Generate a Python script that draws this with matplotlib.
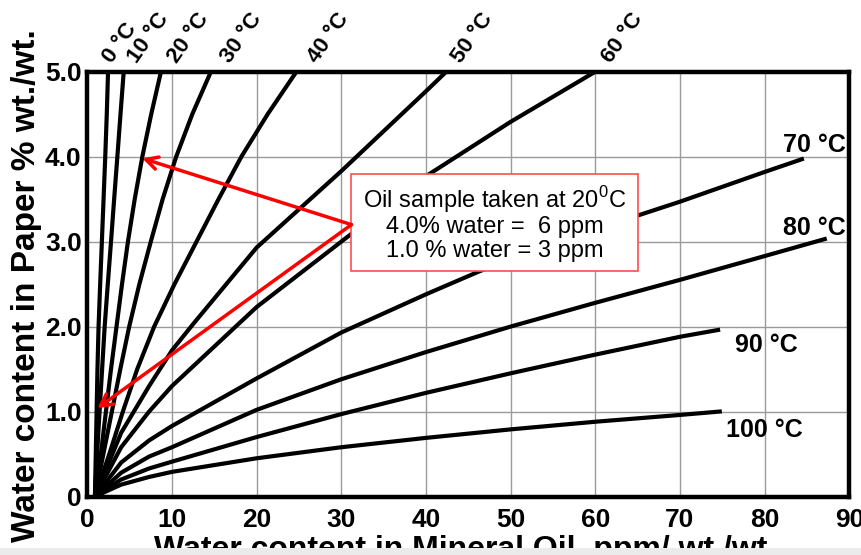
import matplotlib.pyplot as plt
from matplotlib.patches import Rectangle

plt.rcParams['font.family'] = ['Liberation Sans Narrow', 'Liberation Sans', 'DejaVu Sans']

# water in paper levels (% wt./wt.) used for the steep curves
paper_levels = [0.0, 0.5, 1.0, 1.5, 2.0, 2.5, 3.0, 3.5, 4.0, 4.5, 5.0]

# water in oil (ppm) at those levels
oil_0 = [0.9, 1.0, 1.1, 1.2, 1.33, 1.52, 1.72, 1.92, 2.12, 2.3, 2.45]
oil_10 = [0.9, 1.15, 1.45, 1.75, 2.05, 2.42, 2.8, 3.17, 3.55, 3.92, 4.3]
oil_20 = [0.9, 1.6, 2.2, 2.8, 3.45, 4.1, 4.8, 5.6, 6.5, 7.55, 8.7]
oil_30 = [0.9, 1.9, 2.9, 3.9, 4.95, 6.15, 7.5, 8.9, 10.5, 12.4, 14.6]
oil_40 = [0.9, 2.6, 4.2, 5.9, 7.9, 10.3, 12.9, 15.5, 18.2, 21.3, 24.7]

# flatter curves, read as (oil ppm, paper %)
oil_50 = [0.9, 4.0, 7.3, 10, 12.5, 20, 30, 40, 42.4]
paper_50 = [0.0, 0.75, 1.3, 1.72, 2.03, 2.93, 3.83, 4.77, 5.0]
oil_60 = [0.9, 4.0, 7.3, 10, 20, 30, 40, 50, 60]
paper_60 = [0.0, 0.58, 1.0, 1.3, 2.23, 3.0, 3.77, 4.41, 5.0]
oil_70 = [0.9, 4.0, 7.3, 10, 20, 30, 40, 46.3, 55, 65.1, 70, 80, 84.4]
paper_70 = [0.0, 0.4, 0.66, 0.83, 1.39, 1.93, 2.38, 2.65, 2.98, 3.31, 3.47, 3.82, 3.97]
oil_80 = [0.9, 4.0, 7.3, 10, 20, 30, 40, 50, 60, 70, 80, 87.1]
paper_80 = [0.0, 0.28, 0.47, 0.58, 1.02, 1.38, 1.7, 2.0, 2.28, 2.55, 2.83, 3.03]
oil_90 = [0.9, 4.0, 7.3, 10, 20, 30, 40, 50, 60, 70, 74.5]
paper_90 = [0.0, 0.2, 0.33, 0.41, 0.70, 0.97, 1.22, 1.45, 1.67, 1.88, 1.96]
oil_100 = [0.9, 4.0, 7.3, 10, 20, 30, 40, 50, 60, 70, 74.7]
paper_100 = [0.0, 0.14, 0.23, 0.29, 0.45, 0.58, 0.69, 0.79, 0.88, 0.96, 1.0]

top_labels = ['0 °C', '10 °C', '20 °C', '30 °C', '40 °C', '50 °C', '60 °C']
top_label_x = [2.9, 5.9, 10.6, 16.8, 27.1, 44.1, 61.8]
right_labels = ['70 °C', '80 °C', '90 °C', '100 °C']

x_ticks = [0, 10, 20, 30, 40, 50, 60, 70, 80, 90]
y_ticks = [0, 1, 2, 3, 4, 5]
y_tick_labels = ['0', '1.0', '2.0', '3.0', '4.0', '5.0']

note_lines = ['Oil sample taken at 20$^{\\mathregular{0}}$C',
              '4.0% water =  6 ppm',
              '1.0 % water = 3 ppm']

curves = [(oil_0, paper_levels), (oil_10, paper_levels), (oil_20, paper_levels),
          (oil_30, paper_levels), (oil_40, paper_levels), (oil_50, paper_50),
          (oil_60, paper_60), (oil_70, paper_70), (oil_80, paper_80),
          (oil_90, paper_90), (oil_100, paper_100)]

fig = plt.figure(figsize=(8.61, 5.55), dpi=100)
ax = fig.add_axes([0.1014, 0.1054, 0.885, 0.7654])

for xs, ys in curves:
    ax.plot(xs, ys, color='black', lw=3.0, solid_joinstyle='round', zorder=3)

ax.set_xlim(0, 90)
ax.set_ylim(0, 5)
ax.set_xticks(x_ticks)
ax.set_yticks(y_ticks)
ax.set_yticklabels(y_tick_labels)
ax.grid(color='#9a9a9a', lw=1.0)
ax.set_axisbelow(True)
ax.tick_params(length=0, labelsize=19)
ax.tick_params(axis='x', pad=8)
ax.tick_params(axis='y', pad=4)
for lab in ax.get_xticklabels() + ax.get_yticklabels():
    lab.set_fontweight('bold')
for s in ax.spines.values():
    s.set_linewidth(3.2)

# labels at the top ends of the steep curves
for lx, lab in zip(top_label_x, top_labels):
    ax.text(lx, 5.09, lab, rotation=55, rotation_mode='anchor',
            ha='left', va='baseline', fontsize=16, fontweight='bold', clip_on=False)

# labels at the right ends of the flatter curves
right_pos = [(85.9, 4.14), (85.9, 3.16), (80.2, 1.78), (80.0, 0.78)]
for (lx, ly), lab in zip(right_pos, right_labels):
    ax.text(lx, ly, lab, ha='center', va='center', fontsize=18, fontweight='bold')

# note box with arrows
ax.add_patch(Rectangle((31.2, 2.65), 33.9, 1.15, facecolor='white',
                       edgecolor='#ff4d4d', lw=1.2, zorder=5))
ax.text(48.15, 3.22, '\n'.join(note_lines), ha='center', va='center',
        fontsize=17, family=['Liberation Sans', 'DejaVu Sans'],
        linespacing=1.1, zorder=6)
for tip in [(6.5, 3.98), (1.2, 1.04)]:
    ax.annotate('', xy=tip, xytext=(31.2, 3.2),
                arrowprops=dict(arrowstyle='->,head_length=0.85,head_width=0.45',
                                color='red', lw=2.5, shrinkA=0, shrinkB=0),
                zorder=7)

fig.text(27 / 861, 0.486, 'Water content in Paper % wt./wt.', rotation=90,
         ha='center', va='center', fontsize=24, fontweight='bold')
fig.text(465 / 861, 1 - 535 / 555, 'Water content in Mineral Oil, ppm/ wt./wt.',
         ha='center', va='top', fontsize=23, fontweight='bold')

fig.patches.append(Rectangle((0, 0), 1, 7 / 555, transform=fig.transFigure,
                             facecolor='#ebebeb', edgecolor='none', zorder=10))

fig.savefig('out.png', dpi=100)
